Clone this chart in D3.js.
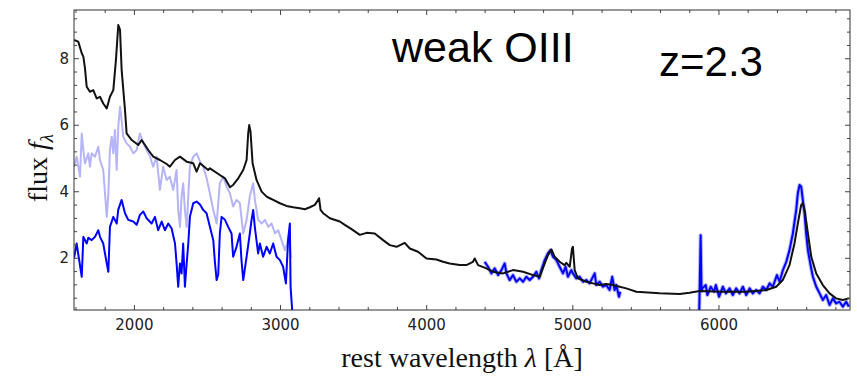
<!DOCTYPE html>
<html>
<head>
<meta charset="utf-8">
<script src="https://cdn.jsdelivr.net/npm/d3@7"></script>
<style>
  body { margin: 0; background: #fff; }
  svg { display: block; }
</style>
</head>
<body>
<div id="chart"></div>
<script>
// composite quasar spectrum, [wavelength (A), flux]
const blackSpec = [
  [1590, 8.55], [1619, 8.5], [1643, 8.15], [1654, 8.05], [1665, 7.7], [1677, 7.14], [1699, 6.99],
  [1722, 7.04], [1745, 6.79], [1768, 6.84], [1790, 6.64], [1814, 6.49], [1836, 6.84], [1859, 7.04],
  [1877, 7.95], [1893, 9.0], [1905, 8.85], [1916, 7.65], [1939, 6.44], [1950, 5.74], [1985, 5.54],
  [2030, 5.39], [2053, 5.54], [2098, 5.24], [2132, 5.04], [2178, 4.94], [2224, 4.82], [2246, 4.74],
  [2281, 4.94], [2315, 5.04], [2361, 4.89], [2406, 4.84], [2429, 4.59], [2452, 4.84], [2508, 4.64],
  [2520, 4.69], [2588, 4.49], [2623, 4.39], [2657, 4.12], [2679, 4.19], [2714, 4.39], [2748, 4.64],
  [2771, 4.94], [2782, 5.74], [2789, 5.99], [2798, 5.79], [2812, 4.84], [2839, 4.34], [2874, 3.99],
  [2908, 3.84], [2930, 3.79], [2953, 3.74], [2999, 3.64], [3044, 3.56], [3090, 3.52], [3135, 3.49],
  [3170, 3.46], [3204, 3.52], [3238, 3.59], [3261, 3.74], [3267, 3.79], [3277, 3.44], [3295, 3.34],
  [3341, 3.19], [3409, 3.09], [3443, 2.99], [3489, 2.86], [3546, 2.69], [3592, 2.75], [3648, 2.73],
  [3705, 2.53], [3751, 2.38], [3797, 2.33], [3853, 2.45], [3888, 2.28], [3944, 2.18], [4002, 1.98],
  [4070, 1.95], [4115, 1.88], [4161, 1.83], [4229, 1.78], [4275, 1.78], [4320, 1.88], [4332, 1.98],
  [4355, 1.78], [4412, 1.68], [4457, 1.58], [4526, 1.53], [4594, 1.63], [4663, 1.58], [4731, 1.48],
  [4777, 1.43], [4811, 1.83], [4833, 2.08], [4857, 2.25], [4879, 2.03], [4913, 1.88], [4947, 1.78],
  [4959, 1.85], [4982, 1.73], [4998, 2.28], [5004, 2.33], [5016, 1.63], [5038, 1.38], [5096, 1.28],
  [5141, 1.23], [5187, 1.18], [5232, 1.21], [5278, 1.18], [5324, 1.13], [5369, 1.08], [5438, 0.98],
  [5597, 0.93], [5734, 0.91], [5802, 0.95], [5871, 1.0], [6030, 0.98], [6190, 0.98], [6327, 1.03],
  [6395, 1.13], [6440, 1.33], [6486, 1.78], [6520, 2.43], [6543, 3.03], [6566, 3.59], [6577, 3.64],
  [6589, 3.44], [6612, 2.73], [6635, 2.03], [6669, 1.53], [6714, 1.18], [6760, 0.93], [6805, 0.78],
  [6851, 0.73], [6892, 0.78]
];

// object spectrum before correction (light blue)
const lightSpec = [
  [1590, 4.74], [1608, 5.04], [1631, 4.44], [1643, 5.74], [1654, 5.24], [1665, 4.84], [1688, 5.14],
  [1699, 4.74], [1711, 5.14], [1734, 5.04], [1756, 5.34], [1768, 4.94], [1790, 4.64], [1802, 3.94],
  [1814, 3.23], [1825, 3.9], [1836, 5.24], [1848, 5.64], [1859, 5.14], [1870, 5.84], [1882, 4.64],
  [1893, 5.94], [1905, 6.54], [1916, 6.14], [1927, 5.64], [1950, 5.44], [1973, 5.34], [1996, 5.14],
  [2019, 5.24], [2041, 5.74], [2064, 5.44], [2087, 5.24], [2110, 5.04], [2132, 4.74], [2155, 5.04],
  [2178, 4.04], [2200, 4.74], [2224, 4.34], [2246, 4.44], [2269, 4.04], [2292, 4.64], [2303, 3.44],
  [2315, 2.93], [2326, 3.84], [2337, 4.24], [2349, 3.44], [2361, 2.93], [2372, 3.84], [2383, 4.74],
  [2406, 5.04], [2429, 5.14], [2452, 4.9], [2474, 4.74], [2497, 4.4], [2520, 3.94], [2543, 3.44],
  [2566, 3.03], [2588, 4.24], [2611, 4.44], [2634, 4.14], [2657, 3.94], [2679, 3.54], [2702, 3.74],
  [2725, 3.64], [2748, 2.73], [2771, 3.14], [2793, 3.84], [2816, 4.24], [2828, 3.74], [2850, 3.14],
  [2874, 3.03], [2897, 3.14], [2919, 2.93], [2942, 3.03], [2965, 2.73], [2987, 2.83], [3010, 2.53],
  [3033, 2.23], [3048, 2.43], [3062, 2.73], [3074, 2.0]
];

// observed spectrum, three wavelength windows (blue)
const blueUV = [
  [1590, 1.98], [1608, 2.43], [1643, 1.43], [1654, 2.63], [1677, 2.43], [1688, 2.6], [1711, 2.53],
  [1734, 2.63], [1756, 2.83], [1768, 2.63], [1790, 2.43], [1814, 1.83], [1825, 1.58], [1836, 2.93],
  [1859, 3.23], [1882, 3.03], [1893, 3.45], [1916, 3.74], [1939, 3.34], [1961, 3.14], [1996, 3.09],
  [2019, 2.99], [2041, 3.29], [2064, 3.39], [2087, 3.19], [2121, 3.03], [2144, 3.23], [2166, 2.83],
  [2190, 3.09], [2212, 2.83], [2235, 3.03], [2258, 2.88], [2281, 2.43], [2292, 1.83], [2303, 1.13],
  [2315, 1.83], [2326, 1.53], [2337, 2.43], [2349, 1.13], [2361, 1.83], [2372, 2.43], [2383, 3.23],
  [2406, 3.64], [2429, 3.69], [2452, 3.6], [2474, 3.44], [2497, 3.34], [2520, 2.93], [2543, 2.53],
  [2555, 1.83], [2566, 1.33], [2577, 1.5], [2588, 2.73], [2600, 3.23], [2623, 3.14], [2645, 2.93],
  [2668, 2.73], [2679, 2.03], [2702, 2.33], [2725, 2.73], [2736, 1.93], [2748, 1.33], [2771, 2.03],
  [2793, 2.73], [2805, 3.14], [2816, 3.44], [2828, 2.9], [2850, 2.13], [2862, 2.43], [2884, 2.03],
  [2908, 2.33], [2930, 2.13], [2953, 2.43], [2976, 2.03], [2999, 1.93], [3021, 1.73], [3040, 1.23],
  [3055, 2.53], [3067, 3.03], [3072, 1.13], [3085, 0.3]
];
const blueHb = [
  [4400, 1.88], [4423, 1.73], [4446, 1.53], [4469, 1.68], [4492, 1.48], [4515, 1.63], [4537, 1.83],
  [4549, 1.53], [4571, 1.33], [4594, 1.48], [4617, 1.28], [4640, 1.38], [4663, 1.28], [4685, 1.43],
  [4708, 1.33], [4731, 1.43], [4754, 1.58], [4772, 1.38], [4788, 1.63], [4811, 1.93], [4833, 2.13],
  [4850, 2.23], [4868, 2.03], [4891, 1.93], [4913, 1.73], [4936, 1.53], [4954, 1.73], [4970, 1.43],
  [4993, 1.63], [5004, 1.53], [5027, 1.38], [5050, 1.43], [5073, 1.28], [5096, 1.33], [5118, 1.23],
  [5153, 1.53], [5164, 1.18], [5187, 1.28], [5209, 1.13], [5232, 1.18], [5255, 1.03], [5273, 1.43],
  [5289, 1.03], [5301, 1.18], [5319, 0.83], [5328, 0.98]
];
const blueHa = [
  [5868, 0.3], [5878, 2.68], [5884, 1.0], [5890, 1.08], [5913, 1.18], [5924, 0.88], [5947, 1.13],
  [5970, 0.98], [5982, 1.18], [6004, 0.83], [6030, 1.13], [6051, 0.93], [6076, 1.08], [6098, 0.88],
  [6121, 1.08], [6144, 0.93], [6167, 1.13], [6190, 0.88], [6213, 1.08], [6235, 0.93], [6258, 1.03],
  [6281, 0.93], [6304, 1.13], [6327, 1.03], [6350, 1.23], [6372, 1.13], [6400, 1.48], [6418, 1.28],
  [6441, 1.63], [6464, 1.88], [6486, 2.23], [6509, 2.73], [6532, 3.44], [6543, 3.94], [6555, 4.19],
  [6566, 4.14], [6577, 3.74], [6589, 3.34], [6600, 2.73], [6612, 2.23], [6628, 1.83], [6646, 1.43],
  [6669, 1.13], [6692, 0.93], [6714, 0.73], [6737, 0.88], [6760, 0.58], [6783, 0.78], [6805, 0.63],
  [6828, 0.68], [6851, 0.53], [6874, 0.68], [6892, 0.53]
];

const xTicks = [2000, 3000, 4000, 5000, 6000];
const yTicks = [2, 4, 6, 8];
const xDomain = [1590, 6900];
const yDomain = [0.43, 9.45];

const width = 857;
const height = 376;
const plot = { left: 74, right: 850, top: 10, bottom: 310 };

const svg = d3.select('#chart')
  .append('svg')
  .attr('width', width)
  .attr('height', height);

const x = d3.scaleLinear().domain(xDomain).range([plot.left, plot.right]);
const y = d3.scaleLinear().domain(yDomain).range([plot.bottom, plot.top]);

// clip lines to the frame
svg.append('clipPath').attr('id', 'clip')
  .append('rect')
  .attr('x', plot.left).attr('y', plot.top)
  .attr('width', plot.right - plot.left).attr('height', plot.bottom - plot.top);

const line = d3.line().x((d) => x(d[0])).y((d) => y(d[1]));
const lines = svg.append('g').attr('clip-path', 'url(#clip)');

lines.append('path').datum(lightSpec)
  .attr('fill', 'none').attr('stroke', '#b4b4f6').attr('stroke-width', 2)
  .attr('stroke-linejoin', 'round').attr('d', line);

// soft halo under the blue windows
[blueHb, blueHa].forEach((seg) => {
  lines.append('path').datum(seg)
    .attr('fill', 'none').attr('stroke', '#b4b4f6').attr('stroke-width', 4)
    .attr('stroke-linejoin', 'round').attr('d', line);
});

[blueUV, blueHb, blueHa].forEach((seg) => {
  lines.append('path').datum(seg)
    .attr('fill', 'none').attr('stroke', '#0000ff').attr('stroke-width', 2)
    .attr('stroke-linejoin', 'round').attr('d', line);
});

lines.append('path').datum(blackSpec)
  .attr('fill', 'none').attr('stroke', '#111').attr('stroke-width', 2)
  .attr('stroke-linejoin', 'round').attr('d', line);

// axes: ticks point inward, minor ticks every 200 A and 0.4 flux
const xMinor = d3.range(1600, 6901, 200).filter((v) => !xTicks.includes(v));
const yMinor = d3.range(0.8, 9.45, 0.4).map((v) => +v.toFixed(1)).filter((v) => !yTicks.includes(v));

function styleAxis(g) {
  g.select('.domain').remove();
  g.selectAll('line').attr('stroke', '#444');
  g.selectAll('text')
    .attr('font-family', 'DejaVu Sans, sans-serif')
    .attr('font-size', 15)
    .attr('fill', '#222');
}

svg.append('g')
  .attr('transform', `translate(0,${plot.bottom})`)
  .call(d3.axisBottom(x).tickValues(xTicks).tickSizeInner(-5).tickSizeOuter(0).tickPadding(9).tickFormat(d3.format('d')))
  .call(styleAxis);
svg.append('g')
  .attr('transform', `translate(0,${plot.bottom})`)
  .call(d3.axisBottom(x).tickValues(xMinor).tickSizeInner(-3).tickSizeOuter(0).tickFormat(''))
  .call(styleAxis);
svg.append('g')
  .attr('transform', `translate(0,${plot.top})`)
  .call(d3.axisTop(x).tickValues(xTicks).tickSizeInner(-5).tickSizeOuter(0).tickFormat(''))
  .call(styleAxis);
svg.append('g')
  .attr('transform', `translate(0,${plot.top})`)
  .call(d3.axisTop(x).tickValues(xMinor).tickSizeInner(-3).tickSizeOuter(0).tickFormat(''))
  .call(styleAxis);

svg.append('g')
  .attr('transform', `translate(${plot.left},0)`)
  .call(d3.axisLeft(y).tickValues(yTicks).tickSizeInner(-5).tickSizeOuter(0).tickPadding(5).tickFormat(d3.format('d')))
  .call(styleAxis);
svg.append('g')
  .attr('transform', `translate(${plot.left},0)`)
  .call(d3.axisLeft(y).tickValues(yMinor).tickSizeInner(-3).tickSizeOuter(0).tickFormat(''))
  .call(styleAxis);
svg.append('g')
  .attr('transform', `translate(${plot.right},0)`)
  .call(d3.axisRight(y).tickValues(yTicks).tickSizeInner(-5).tickSizeOuter(0).tickFormat(''))
  .call(styleAxis);
svg.append('g')
  .attr('transform', `translate(${plot.right},0)`)
  .call(d3.axisRight(y).tickValues(yMinor).tickSizeInner(-3).tickSizeOuter(0).tickFormat(''))
  .call(styleAxis);

// frame
svg.append('rect')
  .attr('x', plot.left).attr('y', plot.top)
  .attr('width', plot.right - plot.left).attr('height', plot.bottom - plot.top)
  .attr('fill', 'none').attr('stroke', '#333').attr('stroke-width', 1);

// axis labels
const xLabel = svg.append('text')
  .attr('x', (plot.left + plot.right) / 2)
  .attr('y', 367)
  .attr('text-anchor', 'middle')
  .attr('font-family', 'Liberation Serif, serif')
  .attr('font-size', 28)
  .attr('fill', '#111');
xLabel.append('tspan').text('rest wavelength ');
xLabel.append('tspan').attr('font-style', 'italic').text('λ');
xLabel.append('tspan').text(' [Å]');

const yLabel = svg.append('text')
  .attr('transform', `translate(47,${168}) rotate(-90)`)
  .attr('text-anchor', 'middle')
  .attr('font-family', 'Liberation Serif, serif')
  .attr('font-size', 28)
  .attr('fill', '#111');
yLabel.append('tspan').text('flux ');
yLabel.append('tspan').attr('font-style', 'italic').text('f');
yLabel.append('tspan').attr('font-style', 'italic').attr('font-size', 19).attr('dy', 6).text('λ');

// annotations
svg.append('text')
  .attr('x', 392).attr('y', 62)
  .attr('font-family', 'Liberation Sans, Arial, sans-serif')
  .attr('font-size', 43)
  .attr('fill', '#000')
  .text('weak OIII');
svg.append('text')
  .attr('x', 659).attr('y', 76)
  .attr('font-family', 'Liberation Sans, Arial, sans-serif')
  .attr('font-size', 42)
  .attr('fill', '#000')
  .text('z=2.3');
</script>
</body>
</html>
